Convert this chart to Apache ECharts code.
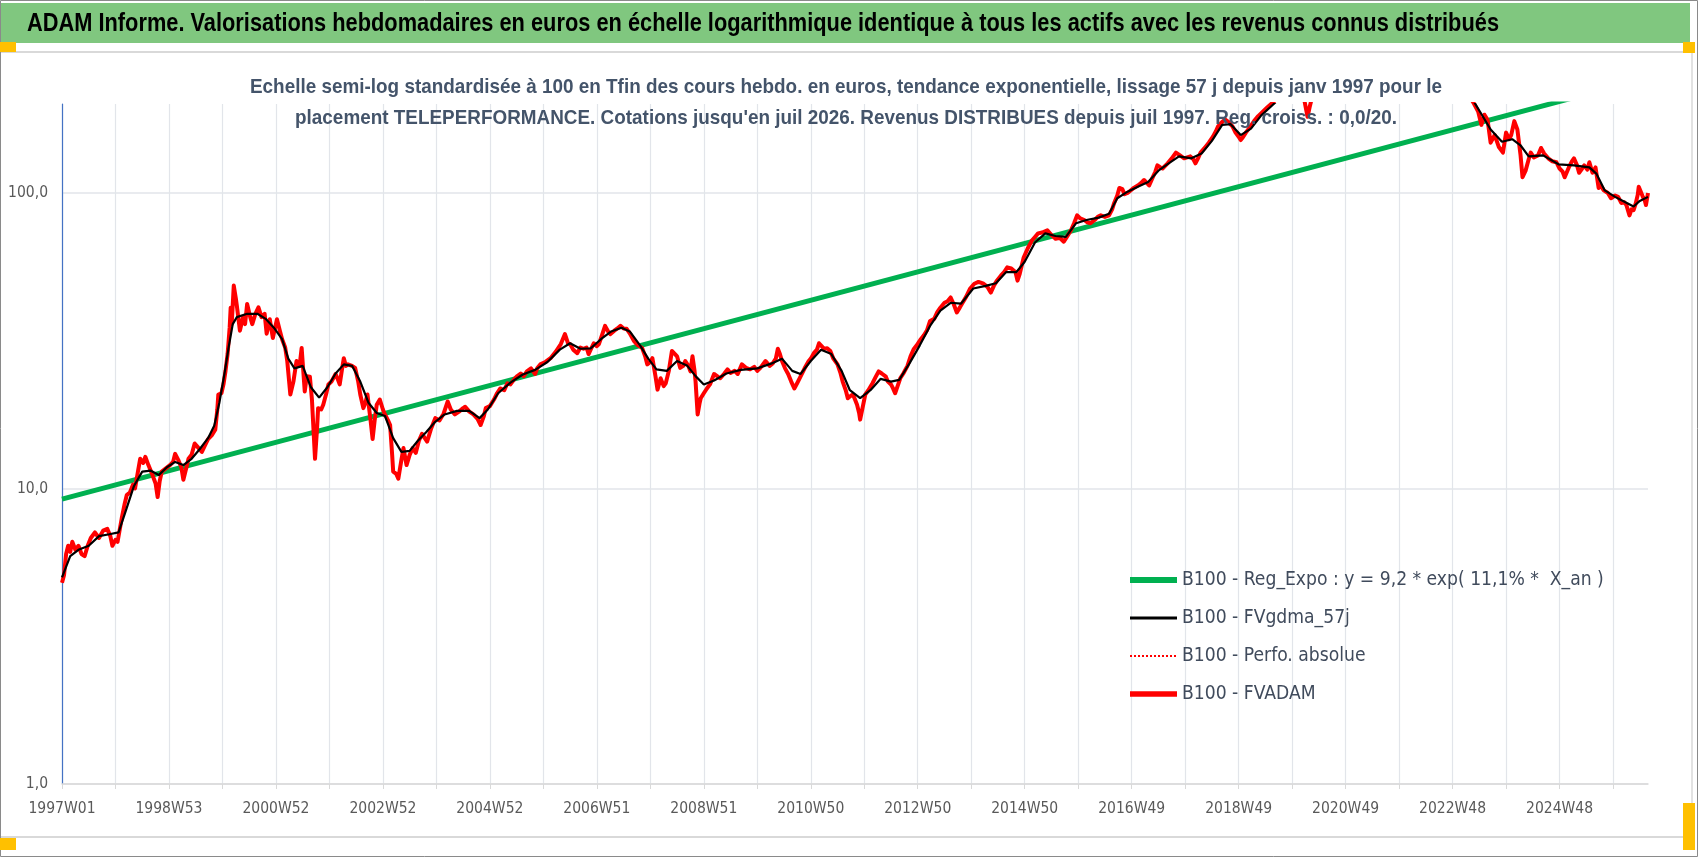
<!DOCTYPE html>
<html>
<head>
<meta charset="utf-8">
<script src="https://cdn.jsdelivr.net/npm/echarts@6/dist/echarts.min.js"></script>
<style>
html,body{margin:0;padding:0;background:#fff;}
#chart{width:1698px;height:857px;}
</style>
</head>
<body>
<div id="chart"></div>
<script>
// ---------- DATA ----------
const titleText = "ADAM Informe. Valorisations hebdomadaires en euros en échelle logarithmique identique à tous les actifs avec les revenus connus distribués";
const subtitleLines = [
  "Echelle semi-log standardisée à 100 en Tfin des cours hebdo. en euros, tendance exponentielle, lissage 57 j depuis janv 1997 pour le",
  "placement TELEPERFORMANCE. Cotations jusqu'en juil 2026. Revenus DISTRIBUES depuis juil 1997. Reg. croiss. : 0,0/20."
];
const seriesNames = [
  "B100 - Reg_Expo : y = 9,2 * exp( 11,1% *  X_an )",
  "B100 - FVgdma_57j",
  "B100 - Perfo. absolue",
  "B100 - FVADAM"
];
// ISO calendar: first year, number of weekly points, 53-week years
const firstYear = 1997;
const weekCount = 1543;
const longYears = [1998, 2004, 2009, 2015, 2020, 2026];

// Regression line (week index, value)
const regExpo = [[0, 9.2], [1542, 245]];

// FVADAM (week index, value)
const fvadam = [
[0,4.8],[2,5.1],[4,6.0],[6,6.4],[8,6.1],[10,6.6],[13,6.2],[16,6.4],[19,6.0],[22,5.9],[25,6.4],[28,6.8],[32,7.1],[36,6.8],[40,7.2],[44,7.3],[47,6.9],[49,6.4],[52,6.7],[54,6.6],[58,7.9],[61,8.9],[63,9.5],[66,9.7],[69,10.3],[71,10.0],[74,11.5],[76,12.6],[79,12.2],[81,12.8],[84,12.0],[88,11.1],[91,10.4],[93,9.35],[95,10.6],[97,11.4],[101,11.7],[105,12.0],[108,12.3],[110,13.1],[113,12.5],[116,11.8],[118,10.7],[121,11.8],[123,12.6],[126,13.0],[129,14.2],[132,13.8],[136,13.3],[139,14.0],[142,14.7],[146,15.2],[149,15.8],[151,18.5],[152,20.8],[155,21],[157,22.5],[159,25],[161,28.5],[163,35],[164,40.9],[165,36],[167,48.6],[169,44],[170,41.5],[173,34.2],[176,38],[178,36],[180,42.1],[183,38],[185,36],[188,39],[191,41],[194,38],[197,39],[199,33.4],[202,37.4],[205,32.3],[209,37.4],[212,34],[214,32],[217,30],[219,27],[222,20.8],[225,23],[228,27],[231,26],[233,29.9],[236,21.3],[238,24],[241,23.9],[243,20],[246,12.6],[248,16],[249,18.7],[252,18.5],[254,19.2],[257,21],[259,22.5],[262,23],[266,24.4],[268,23.5],[270,22.5],[272,25],[274,27.6],[276,26],[278,26.3],[282,26],[285,25.6],[288,23],[290,20.8],[293,18.7],[295,19.5],[297,20.8],[300,17],[302,14.7],[304,17],[306,19.2],[309,20],[312,18.5],[314,17.8],[317,17],[319,16.4],[321,13],[322,11.4],[325,11.2],[327,10.8],[330,12.5],[332,13.7],[335,12.0],[338,13],[341,13.7],[344,13.2],[347,14.5],[350,15.3],[355,14.4],[359,16],[363,17.3],[367,17],[371,17.9],[375,19.7],[378,18.5],[382,17.8],[386,18.2],[390,18.7],[392,18.9],[396,18.2],[400,17.8],[404,17.2],[407,16.4],[410,17.5],[412,18.7],[416,19],[420,20],[423,21],[426,21.8],[430,21.5],[433,22.7],[436,22.5],[440,23.5],[442,23.9],[446,24.5],[449,24],[452,24.9],[456,25.5],[460,24.4],[462,25.5],[465,26.3],[470,26.8],[475,27.6],[480,29],[485,30.8],[489,33.3],[492,31],[494,30.8],[497,29.5],[501,28.7],[504,30],[507,29.7],[510,30],[512,28.5],[515,30],[517,31],[520,30.3],[522,30.8],[525,33],[528,35.5],[531,34],[533,33.3],[537,34.2],[540,34.8],[543,35.5],[546,34.8],[549,34.7],[552,33.5],[556,31.6],[560,30.5],[564,29.9],[567,28],[569,26.3],[572,26.8],[574,27.6],[577,24],[579,21.6],[582,23.6],[585,22.2],[587,22.7],[590,25],[593,29.2],[596,28.5],[598,28],[601,25.6],[604,26],[606,27],[609,26],[611,24.9],[613,28],[615,25],[616,23],[618,17.8],[620,19.5],[621,20.2],[624,21],[627,21.8],[630,22.5],[634,24.4],[637,24],[640,23.6],[644,24.5],[647,25.3],[650,24.6],[654,25],[657,24.4],[661,26.3],[665,25.6],[669,25.3],[673,25.8],[676,25],[679,25.6],[684,27],[688,26],[691,26.5],[694,27.5],[696,29.7],[698,28.5],[700,27],[703,25.5],[706,24.4],[709,23],[712,21.8],[715,22.8],[718,23.9],[722,25.5],[726,27],[728,27.5],[731,28.7],[734,29.5],[736,31],[739,30.2],[741,29.7],[744,29.8],[747,29.2],[750,27.5],[754,26.3],[757,24.5],[759,23],[762,21.5],[764,20.2],[767,20.6],[769,20.8],[771,20],[773,19.2],[775,18],[776,17.1],[778,18.5],[781,20.8],[784,21.5],[788,22.7],[791,23.8],[794,24.9],[797,24.5],[801,23.9],[803,23],[806,22.5],[808,21.8],[810,21],[813,22.5],[815,23.6],[818,24.5],[822,26],[825,28],[828,29.6],[831,30.5],[835,32],[838,33],[841,34.3],[844,36.9],[848,37.5],[851,39.5],[854,40.9],[858,42.5],[861,43],[864,44.3],[867,42],[870,39.4],[873,41],[875,42.2],[879,44.5],[883,47.5],[887,49.3],[891,50],[896,49.3],[900,48],[903,46],[906,48.5],[909,50.5],[913,52.6],[916,54],[919,56],[923,55.5],[927,54],[929,50.5],[931,53],[935,60.5],[939,65],[943,69],[946,71],[949,73],[953,73.5],[958,74.8],[962,72],[966,70],[970,70.5],[974,68.4],[977,71],[981,74.8],[984,79],[987,84],[990,82],[994,81],[997,79.5],[1000,79],[1004,81],[1007,83],[1010,84],[1014,83],[1018,84],[1021,88],[1023,92.5],[1026,98],[1028,104],[1031,103],[1033,99],[1036,100],[1039,102],[1042,104],[1046,106],[1049,108],[1052,110.6],[1055,108],[1057,106],[1060,112],[1063,118],[1065,124],[1068,122],[1070,121],[1073,124],[1075,126],[1079,131],[1083,137],[1087,134],[1091,131],[1094,132],[1097,133],[1100,130],[1102,126],[1105,132],[1107,137],[1111,142],[1115,148],[1119,155],[1122,162],[1124,168],[1128,174],[1131,177],[1134,174],[1138,168],[1141,160],[1144,155],[1146,151],[1148,154],[1151,160],[1155,167],[1159,175],[1163,182],[1168,189],[1172,195],[1177,202],[1182,210],[1188,220],[1194,230],[1200,238],[1205,225],[1208,205],[1211,181],[1213,195],[1216,215],[1222,235],[1230,255],[1240,275],[1250,290],[1260,300],[1270,320],[1280,345],[1290,365],[1300,385],[1305,400],[1310,380],[1320,350],[1330,330],[1340,300],[1350,270],[1360,240],[1366,220],[1373,200],[1377,188],[1380,170],[1383,184],[1386,177],[1389,148],[1393,157],[1397,143],[1401,137],[1404,160],[1407,152],[1409,157],[1412,175],[1415,164],[1418,135],[1420,113],[1423,119],[1426,130],[1428,137],[1431,132],[1435,134],[1438,142],[1441,136],[1445,131],[1449,128],[1453,127],[1456,121],[1459,118],[1461,113],[1465,122],[1468,128],[1470,131],[1473,124],[1475,117],[1478,121],[1480,124],[1483,120],[1485,127],[1488,117],[1491,122],[1494,104],[1496,106],[1499,102],[1503,100],[1506,96],[1510,98],[1513,97],[1516,92.5],[1519,93],[1521,91],[1524,84],[1526,88],[1528,87.5],[1530,92],[1532,98.5],[1533,105],[1535,101],[1537,97],[1539,94],[1540,91],[1542,100]
];

// FVgdma_57j smoothed (week index, value)
const fvgdma = [
[0,5.0],[8,5.9],[16,6.2],[26,6.4],[36,6.9],[46,7.0],[55,7.1],[62,8.4],[70,10.2],[78,11.4],[86,11.5],[94,11.1],[102,11.8],[110,12.3],[118,12.0],[126,12.6],[134,13.6],[142,14.8],[148,16.3],[153,19.5],[158,24.5],[162,30],[166,36],[170,38],[180,39],[190,39],[198,37.5],[206,35],[214,32],[220,27.5],[226,25.5],[234,26],[242,22],[250,20.3],[258,22],[266,24.5],[274,26.3],[282,26],[290,23],[298,19.5],[306,18],[314,17.6],[322,14.8],[330,13.3],[338,13.4],[346,14.5],[354,15.5],[362,16.7],[372,17.8],[384,18.3],[396,18.3],[406,17.3],[414,18.5],[424,21],[436,22.8],[448,24.3],[460,25.2],[472,26.8],[484,29.5],[494,31],[504,29.7],[514,29.8],[524,32],[534,34],[544,35],[552,34],[562,30.5],[570,27.5],[578,25.3],[588,25],[598,27],[608,26],[616,24],[624,22.5],[634,23.2],[646,24.5],[660,25.2],[676,25.5],[690,26.5],[700,27.5],[710,25],[718,24.4],[728,27],[738,29.5],[748,28.5],[758,25],[766,21.5],[776,20.2],[786,21.5],[796,23.5],[806,23],[814,23.3],[824,26.5],[834,30.5],[844,35.5],[854,40],[864,42.5],[874,42.2],[886,47.5],[898,48.5],[908,49.5],[918,54],[928,54],[936,58.5],[946,68],[956,73],[966,71.5],[976,71],[986,79],[996,81],[1008,82.5],[1018,85],[1026,96],[1036,101],[1046,105],[1056,109],[1066,119],[1076,126],[1086,133],[1098,131],[1108,136],[1118,150],[1128,170],[1136,171],[1146,157],[1156,165],[1166,183],[1176,197],[1186,212],[1200,232],[1212,225],[1222,232],[1240,265],[1260,295],[1280,335],[1300,370],[1310,375],[1330,335],[1350,285],[1365,230],[1373,203],[1380,185],[1389,164],[1400,149],[1410,152],[1418,145],[1426,133],[1440,134],[1455,125],[1470,124],[1485,122],[1492,116],[1500,102],[1510,97],[1520,93],[1528,90],[1534,94],[1542,97]
];

// ---------- categories (ISO week labels) ----------
const categories = [];
(function(){
  let y = firstYear, w = 1;
  for (let i = 0; i < weekCount; i++) {
    categories.push(y + 'W' + (w < 10 ? '0' + w : w));
    w++;
    const maxW = longYears.indexOf(y) >= 0 ? 53 : 52;
    if (w > maxW) { w = 1; y++; }
  }
})();

// ---------- fonts ----------
const FAM = "'DejaVu Sans Condensed', 'Liberation Sans', sans-serif";
const WIDE = "'Liberation Sans', 'DejaVu Sans', sans-serif";
const ctx2d = document.createElement('canvas').getContext('2d');
function textWidth(text, font) { ctx2d.font = font; return ctx2d.measureText(text).width; }
function fitFont(text, weight, target) {
  return 100 * target / textWidth(text, weight + ' 100px ' + FAM);
}
const titleFont = 'bold 25px ' + WIDE;
const titleScale = 1472 / textWidth(titleText, titleFont);
const subFont = 'bold 21px ' + WIDE;
const subScale = 1192 / textWidth(subtitleLines[0], subFont);
const legendSize = fitFont(seriesNames[0], 'normal', 422);

const chart = echarts.init(document.getElementById('chart'), null, {renderer: 'canvas'});

const option = {
  animation: false,
  backgroundColor: '#ffffff',
  grid: {left: 62, right: 50, top: 104, bottom: 73, containLabel: false},
  legend: {
    orient: 'vertical',
    left: 1127, top: 570, padding: 0,
    itemWidth: 47, itemHeight: 14, itemGap: 18,
    data: [
      {name: seriesNames[0], lineStyle: {width: 6, color: '#00b050'}},
      {name: seriesNames[1], lineStyle: {width: 3, color: '#000000'}},
      {name: seriesNames[2], lineStyle: {width: 2, color: '#ff0000', type: 'dotted'}},
      {name: seriesNames[3], lineStyle: {width: 5.5, color: '#ff0000'}}
    ],
    itemStyle: {opacity: 0},
    textStyle: {fontFamily: FAM, fontSize: legendSize, color: '#404b5c', lineHeight: 20}
  },
  xAxis: {
    type: 'category',
    data: categories,
    boundaryGap: false,
    axisLine: {show: true, lineStyle: {color: '#d9d9d9', width: 1.5}},
    axisTick: {show: true, interval: 51, length: 5, lineStyle: {color: '#d9d9d9'}},
    axisLabel: {interval: 103, margin: 17, fontFamily: FAM, fontSize: 15.5, color: '#595959'},
    splitLine: {show: true, interval: 51, lineStyle: {color: '#e2e5ea', width: 1.2}}
  },
  yAxis: {
    type: 'log',
    logBase: 10,
    min: 1, max: 200,
    axisLine: {show: true, lineStyle: {color: '#4472c4', width: 1.2}},
    axisTick: {show: false},
    axisLabel: {
      showMaxLabel: false, margin: 14,
      fontFamily: FAM, fontSize: 15.5, color: '#595959',
      formatter: v => (v >= 199) ? '' : v.toFixed(1).replace('.', ',')
    },
    splitLine: {show: true, lineStyle: {color: ['#e2e5ea', '#e2e5ea', '#e2e5ea', 'rgba(0,0,0,0)'], width: 1.5}}
  },
  series: [
    {name: seriesNames[0], type: 'line', data: regExpo, symbol: 'none', z: 1,
     lineStyle: {color: '#00b050', width: 5}, itemStyle: {color: '#00b050'}},
    {name: seriesNames[2], type: 'line', data: fvadam, symbol: 'none', z: 2,
     lineStyle: {color: '#ff0000', width: 1.5, type: 'dotted'}, itemStyle: {color: '#ff0000'}},
    {name: seriesNames[3], type: 'line', data: fvadam, symbol: 'none', z: 3,
     lineStyle: {color: '#ff0000', width: 4, join: 'round'}, itemStyle: {color: '#ff0000'}},
    {name: seriesNames[1], type: 'line', data: fvgdma, symbol: 'none', z: 4,
     lineStyle: {color: '#000000', width: 2.2}, itemStyle: {color: '#000000'}}
  ],
  graphic: [
    {type: 'rect', silent: true, z: -10, shape: {x: 0, y: 3, width: 1690, height: 40}, style: {fill: '#80c77f'}},
    {type: 'text', z: 10, x: 27, y: 24, scaleX: titleScale,
     style: {text: titleText, font: titleFont, fill: '#000000', align: 'left', verticalAlign: 'middle'}},
    {type: 'line', silent: true, z: -5, shape: {x1: 0, y1: 52, x2: 1692, y2: 52}, style: {stroke: '#d9d9d9', lineWidth: 2}},
    {type: 'line', silent: true, z: -5, shape: {x1: 0, y1: 837, x2: 1692, y2: 837}, style: {stroke: '#d9d9d9', lineWidth: 2}},
    {type: 'line', silent: true, z: -5, shape: {x1: 1692, y1: 52, x2: 1692, y2: 837}, style: {stroke: '#d9d9d9', lineWidth: 1.5}},
    {type: 'rect', silent: true, z: 20, shape: {x: 0.5, y: 0.5, width: 1697, height: 856}, style: {fill: null, stroke: '#8a8a8a', lineWidth: 1}},
    {type: 'rect', silent: true, z: 21, shape: {x: 0, y: 42, width: 16, height: 10}, style: {fill: '#ffc000'}},
    {type: 'rect', silent: true, z: 21, shape: {x: 0, y: 838, width: 16, height: 12}, style: {fill: '#ffc000'}},
    {type: 'rect', silent: true, z: 21, shape: {x: 1683, y: 42, width: 12, height: 11}, style: {fill: '#ffc000'}},
    {type: 'rect', silent: true, z: 21, shape: {x: 1683, y: 803, width: 12, height: 47}, style: {fill: '#ffc000'}},
    {type: 'text', z: 10, x: 846, y: 87, scaleX: subScale,
     style: {text: subtitleLines[0], font: subFont, fill: '#44546a', align: 'center', verticalAlign: 'middle'}},
    {type: 'text', z: 10, x: 846, y: 118, scaleX: subScale,
     style: {text: subtitleLines[1], font: subFont, fill: '#44546a', align: 'center', verticalAlign: 'middle'}}
  ]
};
chart.setOption(option);
</script>
</body>
</html>
